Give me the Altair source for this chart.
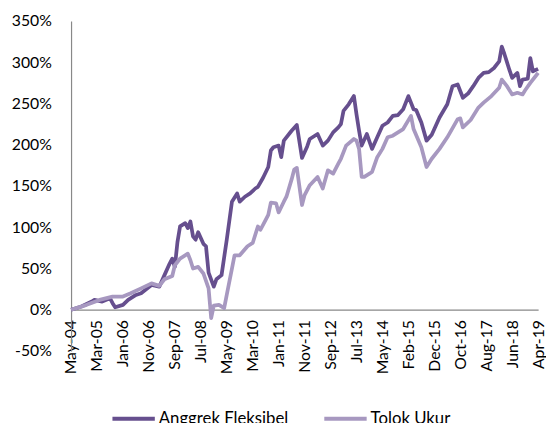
import altair as alt
import pandas as pd

# Month-period index (0 = May-04, 180 = Apr-19) and cumulative returns (%)
anggrek_idx = [0, 4, 8, 9, 12, 15, 16, 17, 20, 22, 25, 27, 31, 34, 36, 38, 39, 40, 41, 42,
               44, 45, 46, 47, 48, 49, 51, 52, 53, 55, 56, 58, 60, 62, 64, 65, 67, 69, 71, 72,
               74, 76, 77, 78, 80, 81, 82, 85, 87, 89, 91, 92, 95, 97, 99, 101, 103, 104, 105, 107,
               109, 110, 111, 112, 114, 116, 118, 120, 122, 124, 126, 128, 130, 132, 133, 135, 137, 139, 142, 145,
               147, 149, 151, 153, 155, 157, 159, 161, 163, 165, 166, 167, 169, 170, 172, 173, 174, 176, 177, 178, 180]
anggrek_val = [0, 4, 10, 12, 10, 14, 8, 3, 6, 12, 18, 20, 30, 28, 42, 56, 62, 52, 82, 101,
               105, 99, 107, 89, 85, 94, 80, 77, 45, 28, 37, 42, 85, 131, 141, 131, 137, 141, 147, 149,
               160, 173, 193, 197, 199, 185, 205, 217, 224, 184, 198, 207, 213, 199, 205, 215, 221, 225, 241, 249,
               259, 237, 217, 199, 213, 195, 209, 223, 227, 235, 236, 243, 259, 243, 242, 227, 205, 212, 233, 249,
               271, 273, 257, 262, 271, 281, 287, 288, 293, 301, 319, 310, 290, 281, 287, 271, 279, 280, 305, 289, 292]

tolok_idx = [0, 6, 11, 16, 20, 23, 27, 31, 34, 36, 39, 40, 42, 45, 46, 47, 49, 51, 53, 54,
             55, 57, 59, 60, 62, 63, 65, 68, 70, 72, 73, 75, 76, 77, 79, 80, 82, 83, 85, 86,
             87, 89, 90, 92, 95, 97, 99, 101, 103, 104, 106, 109, 110, 111, 112, 113, 115, 116, 118, 120,
             122, 124, 128, 131, 132, 135, 137, 139, 142, 145, 149, 150, 151, 154, 157, 159, 162, 165, 166, 168,
             170, 172, 174, 175, 177, 179, 180]
tolok_val = [0, 6, 12, 16, 16, 20, 26, 32, 29, 37, 41, 54, 62, 68, 60, 50, 52, 44, 26, -10,
             5, 6, 2, 18, 50, 66, 66, 77, 81, 101, 97, 109, 115, 130, 129, 118, 131, 137, 158, 170,
             172, 127, 139, 151, 161, 147, 169, 165, 177, 183, 199, 207, 205, 195, 161, 161, 165, 167, 185, 195,
             209, 211, 219, 235, 219, 197, 173, 183, 195, 209, 231, 232, 221, 230, 245, 251, 259, 269, 279, 271,
             261, 263, 261, 266, 275, 283, 287]

tick_labels = ["May-04", "Mar-05", "Jan-06", "Nov-06", "Sep-07", "Jul-08", "May-09", "Mar-10",
               "Jan-11", "Nov-11", "Sep-12", "Jul-13", "May-14", "Feb-15", "Dec-15", "Oct-16",
               "Aug-17", "Jun-18", "Apr-19"]
series_names = ["Anggrek Fleksibel", "Tolok Ukur"]
series_colors = ["#664f8e", "#a798c0"]

df = pd.concat([
    pd.DataFrame({"period": anggrek_idx, "value": anggrek_val, "series": series_names[0]}),
    pd.DataFrame({"period": tolok_idx, "value": tolok_val, "series": series_names[1]}),
])

label_arr = "[" + ",".join(f"'{t}'" for t in tick_labels) + "]"

chart = alt.Chart(df).mark_line(strokeWidth=3.8, strokeJoin="round", interpolate="linear").encode(
    x=alt.X("period:Q",
            scale=alt.Scale(domain=[0, 180], nice=False, zero=False),
            axis=alt.Axis(values=list(range(0, 181, 10)),
                          labelExpr=f"{label_arr}[round(datum.value/10)]",
                          labelAngle=270, labelAlign="right", labelBaseline="middle",
                          labelPadding=10, ticks=False, grid=False, title=None,
                          offset=-42, domainColor="#888888", domainWidth=1.2,
                          labelFont="Lato", labelFontSize=16, labelColor="#000000",
                          labelOverlap=False, labelFlush=False, labelBound=False)),
    y=alt.Y("value:Q",
            scale=alt.Scale(domain=[-50, 350], nice=False),
            axis=alt.Axis(values=list(range(-50, 351, 50)),
                          labelExpr="datum.value + '%'",
                          ticks=False, grid=False, title=None,
                          labelPadding=20, domainColor="#888888", domainWidth=1.2,
                          labelFont="Lato", labelFontSize=16, labelColor="#000000",
                          labelFlush=False, labelOverlap=False)),
    color=alt.Color("series:N",
                    scale=alt.Scale(domain=series_names, range=series_colors),
                    legend=alt.Legend(title=None, orient="none", legendX=40, legendY=380,
                                      direction="horizontal", symbolType="stroke",
                                      symbolSize=1849, symbolStrokeWidth=4,
                                      labelFont="Lato", labelFontSize=17, labelColor="#000000",
                                      labelOffset=2, columnPadding=28)),
    order=alt.Order("period:Q"),
).properties(
    width=474, height=335,
    padding={"left": 64, "top": 10, "right": 8, "bottom": 80},
    autosize=alt.AutoSizeParams(type="none"),
).configure_view(stroke=None)

chart.save("out.html", embed_options={"renderer": "svg", "actions": False})
